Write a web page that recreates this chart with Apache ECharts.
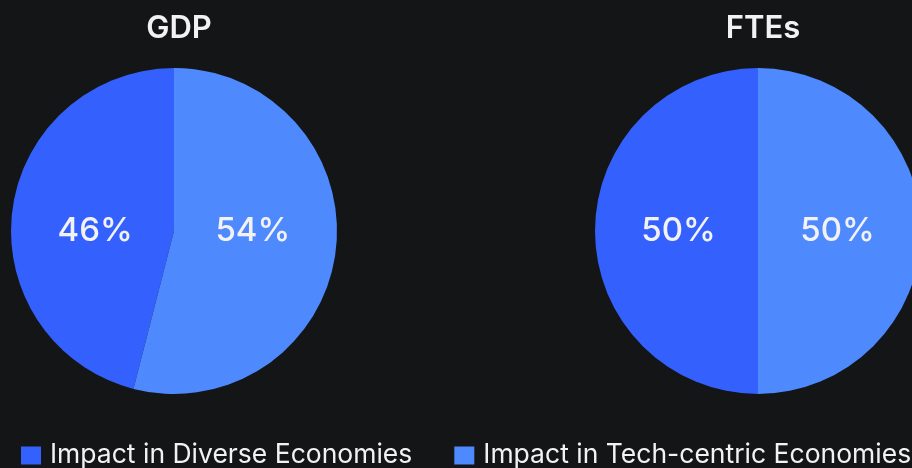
<!DOCTYPE html>
<html><head><meta charset="utf-8">
<script src="https://cdn.jsdelivr.net/npm/echarts@6/dist/echarts.min.js"></script>
<style>html,body{margin:0;padding:0;background:#141517;}#c{width:912px;height:468px;}</style>
</head><body><div id="c"></div>
<script>
const titles = ['GDP', 'FTEs'];
const categories = ['Impact in Diverse Economies', 'Impact in Tech-centric Economies'];
const gdpValues = [46, 54];
const fteValues = [50, 50];
const colors = ['#3461FE', '#4F89FE'];
const FONT = 'Inter';

const chart = echarts.init(document.getElementById('c'));
// keep inside labels level with the pie centre and a touch nearer to it, as in the reference
function levelOffset(vals, r) {
  const total = vals.reduce((a, b) => a + b, 0);
  let acc = 0;
  return vals.map(v => {
    const mid = (90 + (acc + v / 2) / total * 360) * Math.PI / 180; // counter-clockwise from top
    acc += v;
    const dy = -Math.sin(mid) * r * 0.5;
    const dx = -Math.sign(Math.cos(mid)) * 5;
    return [dx, -dy];
  });
}
function mkSeries(name, vals, cx) {
  const offs = levelOffset(vals, 163);
  return {
    type: 'pie', name: name, center: [cx, 231], radius: [0, 163],
    clockwise: false, startAngle: 90,
    label: { show: true, position: 'inside', formatter: '{c}%', color: '#F2F2F2', fontSize: 33, fontFamily: FONT, fontWeight: 500 },
    labelLine: { show: false },
    itemStyle: { borderWidth: 0 },
    emphasis: { disabled: true },
    data: categories.map((c, i) => ({ name: c, value: vals[i], label: { offset: offs[i] } }))
  };
}
const titleStyle = { color: '#F2F2F2', fontSize: 31, fontWeight: 600, fontFamily: FONT };
chart.setOption({
  backgroundColor: '#141517',
  animation: false,
  color: colors,
  title: [
    { text: titles[0], left: 174, top: 8, textAlign: 'center', textStyle: titleStyle },
    { text: titles[1], left: 758, top: 8, textAlign: 'center', textStyle: titleStyle }
  ],
  legend: {
    data: categories, bottom: -1, left: 21, width: 1000, padding: 0, itemWidth: 20, itemHeight: 18, itemGap: 42, icon: 'rect',
    textStyle: { color: '#F2F2F2', fontSize: 26.5, fontFamily: FONT, padding: [0, 0, 0, 4] }
  },
  series: [mkSeries(titles[0], gdpValues, 174), mkSeries(titles[1], fteValues, 758)]
});
</script></body></html>
